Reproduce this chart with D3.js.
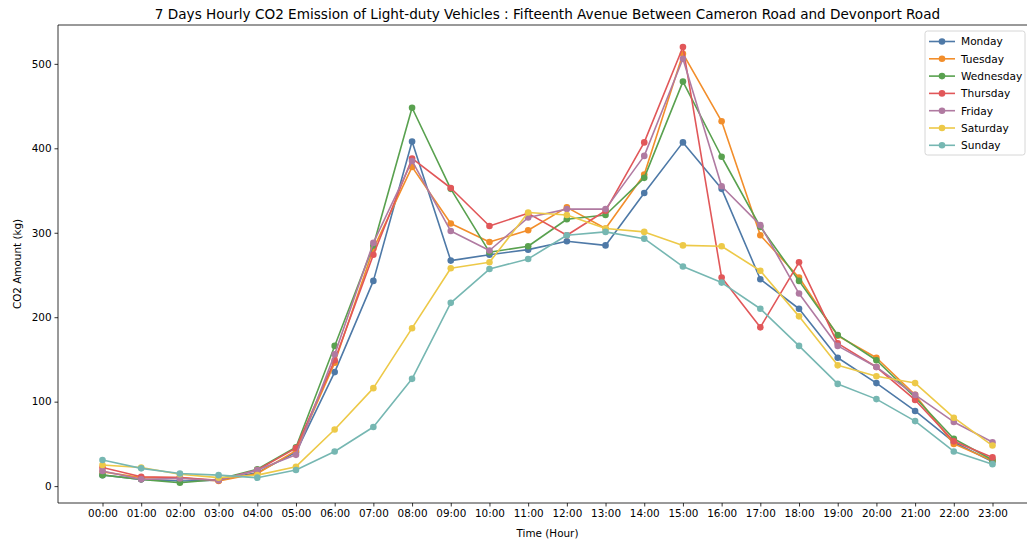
<!DOCTYPE html>
<html>
<head>
<meta charset="utf-8">
<script src="https://cdn.jsdelivr.net/npm/d3@7"></script>
<style>
  html, body { margin: 0; padding: 0; background: #fff; overflow: hidden; }
  svg { display: block; font-family: "DejaVu Sans", sans-serif; }
</style>
</head>
<body>
<svg id="chart" width="1027" height="543"></svg>
<script>
const hours = ["00:00","01:00","02:00","03:00","04:00","05:00","06:00","07:00","08:00","09:00","10:00","11:00",
               "12:00","13:00","14:00","15:00","16:00","17:00","18:00","19:00","20:00","21:00","22:00","23:00"];
const yTicks = [0, 100, 200, 300, 400, 500];

const monday    = [13, 8, 6, 7, 16, 40, 135, 243, 408, 267, 274, 280, 290, 285, 347, 407, 352, 245, 210, 152, 122, 89, 52, 29];
const tuesday   = [17, 10, 10, 6, 15, 42, 146, 281, 378, 311, 289, 303, 330, 305, 369, 512, 432, 297, 247, 178, 152, 108, 50, 30];
const wednesday = [13, 8, 4, 8, 20, 46, 166, 285, 448, 352, 277, 284, 316, 321, 365, 479, 390, 307, 243, 179, 149, 105, 56, 31];
const thursday  = [22, 11, 10, 7, 19, 45, 149, 274, 388, 353, 308, 323, 297, 326, 407, 520, 247, 188, 265, 169, 141, 102, 53, 34];
const friday    = [18, 8, 9, 7, 19, 37, 156, 288, 385, 302, 279, 318, 328, 328, 391, 506, 355, 309, 228, 166, 141, 108, 76, 52];
const saturday  = [25, 22, 14, 10, 13, 23, 67, 116, 187, 258, 265, 324, 321, 305, 301, 285, 284, 255, 201, 143, 130, 122, 81, 48];
const sunday    = [31, 21, 15, 13, 10, 19, 41, 70, 127, 217, 257, 269, 297, 301, 293, 260, 241, 210, 166, 121, 103, 77, 41, 26];

const seriesNames = ["Monday","Tuesday","Wednesday","Thursday","Friday","Saturday","Sunday"];
const seriesValues = [monday, tuesday, wednesday, thursday, friday, saturday, sunday];
const colors = ["#4e79a7","#f28e2b","#59a14f","#e15759","#b07aa1","#edc948","#76b7b2"];

const svg = d3.select("#chart");
const L = 58, R = 1037, T = 25, B = 503;

const x = d3.scaleLinear().domain([-1.15, 24.15]).range([L, R]);
const y = d3.scaleLinear().domain([-20, 546]).range([B, T]);

// axes
const xAxis = d3.axisBottom(x).tickValues(d3.range(hours.length)).tickFormat(i => hours[i]).tickSize(3.5).tickSizeOuter(0);
const yAxis = d3.axisLeft(y).tickValues(yTicks).tickSize(3.5).tickSizeOuter(0);

const gx = svg.append("g").attr("transform", `translate(0,${B})`).call(xAxis);
const gy = svg.append("g").attr("transform", `translate(${L},0)`).call(yAxis);
[gx, gy].forEach(g => {
  g.select(".domain").remove();
  g.selectAll(".tick line").attr("stroke", "#000").attr("stroke-width", 0.8);
  g.selectAll(".tick text").attr("fill", "#000").style("font-size", "10.4px").style("font-family", "DejaVu Sans");
});
gx.selectAll(".tick text").attr("dy", "0.71em").attr("y", 6.5);
gy.selectAll(".tick text").attr("x", -6.5);

// spines
svg.append("line").attr("x1", L).attr("x2", L).attr("y1", T).attr("y2", B).attr("stroke", "#000").attr("stroke-width", 0.8);
svg.append("line").attr("x1", L).attr("x2", R).attr("y1", B).attr("y2", B).attr("stroke", "#000").attr("stroke-width", 0.8);
svg.append("line").attr("x1", L).attr("x2", R).attr("y1", T).attr("y2", T).attr("stroke", "#000").attr("stroke-width", 0.8);
svg.append("line").attr("x1", R).attr("x2", R).attr("y1", T).attr("y2", B).attr("stroke", "#000").attr("stroke-width", 0.8);

// lines
const line = d3.line().x((d, i) => x(i)).y(d => y(d));
seriesValues.forEach((vals, k) => {
  const g = svg.append("g");
  g.append("path").datum(vals).attr("d", line).attr("fill", "none")
    .attr("stroke", colors[k]).attr("stroke-width", 1.6).attr("stroke-linejoin", "round").attr("stroke-linecap", "square");
  g.selectAll("circle").data(vals).join("circle")
    .attr("cx", (d, i) => x(i)).attr("cy", d => y(d)).attr("r", 3.3).attr("fill", colors[k]);
});

// title & labels
svg.append("text").attr("x", (L + R) / 2).attr("y", 18.5).attr("text-anchor", "middle")
  .style("font-size", "13.6px").attr("fill", "#000")
  .text("7 Days Hourly CO2 Emission of Light-duty Vehicles : Fifteenth Avenue Between Cameron Road and Devonport Road");
svg.append("text").attr("x", (L + R) / 2 - 0).attr("y", 537).attr("text-anchor", "middle")
  .style("font-size", "10.4px").attr("fill", "#000").text("Time (Hour)");
svg.append("text").attr("transform", `translate(21,${(T + B) / 2}) rotate(-90)`).attr("text-anchor", "middle")
  .style("font-size", "10.4px").attr("fill", "#000").text("CO2 Amount (kg)");

// legend
const lg = svg.append("g").attr("transform", "translate(925,31)");
lg.append("rect").attr("x", 0).attr("y", 0).attr("width", 100).attr("height", 124).attr("rx", 2.5)
  .attr("fill", "#fff").attr("fill-opacity", 0.8).attr("stroke", "#ccc").attr("stroke-width", 0.8);
seriesNames.forEach((name, k) => {
  const cy = 10.5 + k * 17.3;
  lg.append("line").attr("x1", 4).attr("x2", 30).attr("y1", cy).attr("y2", cy).attr("stroke", colors[k]).attr("stroke-width", 1.6);
  lg.append("circle").attr("cx", 17).attr("cy", cy).attr("r", 3.3).attr("fill", colors[k]);
  lg.append("text").attr("x", 36).attr("y", cy).attr("dy", "0.36em").style("font-size", "10.6px").attr("fill", "#000").text(name);
});
</script>
</body>
</html>
